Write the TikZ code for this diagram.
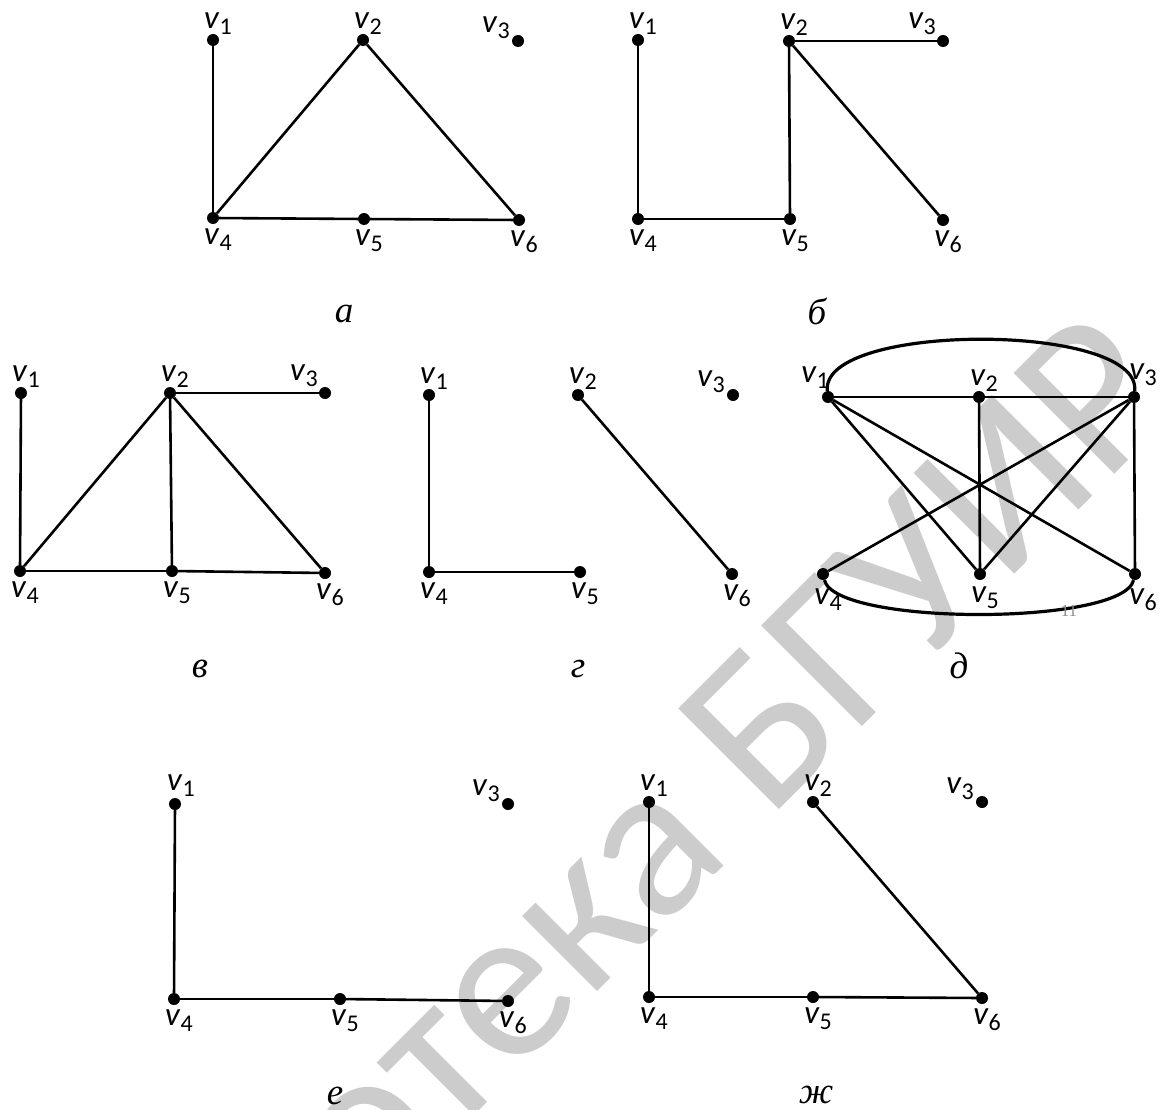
\documentclass[tikz,border=0pt]{standalone}
\usepackage{fontspec}
\setmainfont{Liberation Serif}
\newfontfamily\labfont{Carlito}
\newcommand{\labsize}{\labfont\fontsize{33}{33}\selectfont}
\newcommand{\capsize}{\fontsize{37}{37}\selectfont\itshape}
\newcommand{\wmsize}{\labfont\fontsize{222}{222}\selectfont}
\newcommand{\vname}[1]{\textit{v}\raisebox{-6pt}{\fontsize{24}{24}\selectfont #1}}

\begin{document}
\begin{tikzpicture}[
    x=1pt, y=-1pt,
    vtx/.style={circle, fill=black, inner sep=0pt, minimum size=12pt},
    lab/.style={font=\labsize, inner sep=0pt},
    lbx/.style n args={3}{label={[lab, shift={(#2,#3)}]center:\vname{#1}}},
    lbN/.style={lbx={#1}{5}{-16}},
    lbS/.style={lbx={#1}{5}{22}},
    lbW/.style={lbx={#1}{-22}{-13}},
    lbNW/.style={lbx={#1}{-21}{-17}},
    edge/.style={line width=2.6pt},
    arcline/.style={line width=3.2pt},
    capt/.style={font=\capsize, inner sep=0pt},
    wmark/.style={font=\wmsize, text=black!20, inner sep=0pt},
    pnum/.style={font=\fontsize{17}{17}\selectfont, text=black!45, inner sep=0pt},
]
\useasboundingbox (0,0) rectangle (1161,1110);

% watermark
\begin{scope}
\clip (0,0) rectangle (1161,1110);
\node[wmark, rotate=45, anchor=base east] (WM) at (1185,404) {Библиотека БГУИР};
\end{scope}

% graph a
\node[vtx, lbN=1] (A1) at (213,40) {};
\node[vtx, lbN=2] (A2) at (363,40) {};
\node[vtx, lbW=3] (A3) at (518,41) {};
\node[vtx, lbS=4] (A4) at (213,218) {};
\node[vtx, lbS=5] (A5) at (364,219) {};
\node[vtx, lbS=6] (A6) at (519,220) {};
\draw[edge] (A1) -- (A4);
\draw[edge] (A4) -- (A2);
\draw[edge] (A2) -- (A6);
\draw[edge] (A4) -- (A5);
\draw[edge] (A5) -- (A6);
\node[capt] (CAPA) at (344,314) {а};

% graph b
\node[vtx, lbN=1] (B1) at (638,40) {};
\node[vtx, lbN=2] (B2) at (789,41) {};
\node[vtx, lbNW=3] (B3) at (943,41) {};
\node[vtx, lbS=4] (B4) at (638,219) {};
\node[vtx, lbS=5] (B5) at (790,219) {};
\node[vtx, lbS=6] (B6) at (943,220) {};
\draw[edge] (B1) -- (B4);
\draw[edge] (B4) -- (B5);
\draw[edge] (B5) -- (B2);
\draw[edge] (B2) -- (B3);
\draw[edge] (B2) -- (B6);
\node[capt] (CAPB) at (817,311) {б};

% graph c
\node[vtx, lbN=1] (C1) at (21,393) {};
\node[vtx, lbN=2] (C2) at (170,393) {};
\node[vtx, lbNW=3] (C3) at (325,393) {};
\node[vtx, lbS=4] (C4) at (20,571) {};
\node[vtx, lbS=5] (C5) at (172,571) {};
\node[vtx, lbS=6] (C6) at (325,573) {};
\draw[edge] (C1) -- (C4);
\draw[edge] (C4) -- (C2);
\draw[edge] (C2) -- (C5);
\draw[edge] (C2) -- (C6);
\draw[edge] (C2) -- (C3);
\draw[edge] (C4) -- (C5);
\draw[edge] (C5) -- (C6);
\node[capt] (CAPC) at (200,669) {в};

% graph d
\node[vtx, lbN=1] (D1) at (429,395) {};
\node[vtx, lbN=2] (D2) at (578,395) {};
\node[vtx, lbW=3] (D3) at (733,395) {};
\node[vtx, lbS=4] (D4) at (429,572) {};
\node[vtx, lbS=5] (D5) at (580,572) {};
\node[vtx, lbS=6] (D6) at (732,574) {};
\draw[edge] (D1) -- (D4);
\draw[edge] (D4) -- (D5);
\draw[edge] (D2) -- (D6);
\node[capt] (CAPD) at (578,669) {г};

% graph e (complete part)
\node[vtx, lbx={1}{-13}{-19}] (E1) at (828,397) {};
\node[vtx, lbN=2] (E2) at (979,397) {};
\node[vtx, lbx={3}{9}{-22}] (E3) at (1134,397) {};
\node[vtx, lbx={4}{5}{26}] (E4) at (823,574) {};
\node[vtx, lbx={5}{5}{24}] (E5) at (980,574) {};
\node[vtx, lbx={6}{8}{26}] (E6) at (1135,574) {};
\draw[edge] (E1) -- (E2);
\draw[edge] (E2) -- (E3);
\draw[edge] (E1) -- (E5);
\draw[edge] (E1) -- (E6);
\draw[edge] (E2) -- (E5);
\draw[edge] (E3) -- (E4);
\draw[edge] (E3) -- (E5);
\draw[edge] (E3) -- (E6);
\draw[arcline] (E1) .. controls +(-8,-75) and +(8,-75) .. (E3);
\draw[arcline] (E4) .. controls +(12,52) and +(-12,52) .. (E6);
\node[pnum] (PN) at (1069,611) {11};
\node[capt] (CAPE) at (959,666) {д};

% graph f
\node[vtx, lbx={1}{6}{-18}] (F1) at (175,804) {};
\node[vtx, lbW=3] (F3) at (508,804) {};
\node[vtx, lbS=4] (F4) at (174,999) {};
\node[vtx, lbS=5] (F5) at (340,999) {};
\node[vtx, lbS=6] (F6) at (508,1001) {};
\draw[edge] (F1) -- (F4);
\draw[edge] (F4) -- (F5);
\draw[edge] (F5) -- (F6);
\node[capt] (CAPF) at (335,1096) {е};

% graph g
\node[vtx, lbN=1] (G1) at (649,802) {};
\node[vtx, lbN=2] (G2) at (813,802) {};
\node[vtx, lbW=3] (G3) at (982,802) {};
\node[vtx, lbS=4] (G4) at (649,997) {};
\node[vtx, lbS=5] (G5) at (813,997) {};
\node[vtx, lbS=6] (G6) at (982,998) {};
\draw[edge] (G1) -- (G4);
\draw[edge] (G4) -- (G5);
\draw[edge] (G5) -- (G6);
\draw[edge] (G2) -- (G6);
\node[capt] (CAPG) at (816,1095) {ж};
\end{tikzpicture}
\end{document}
